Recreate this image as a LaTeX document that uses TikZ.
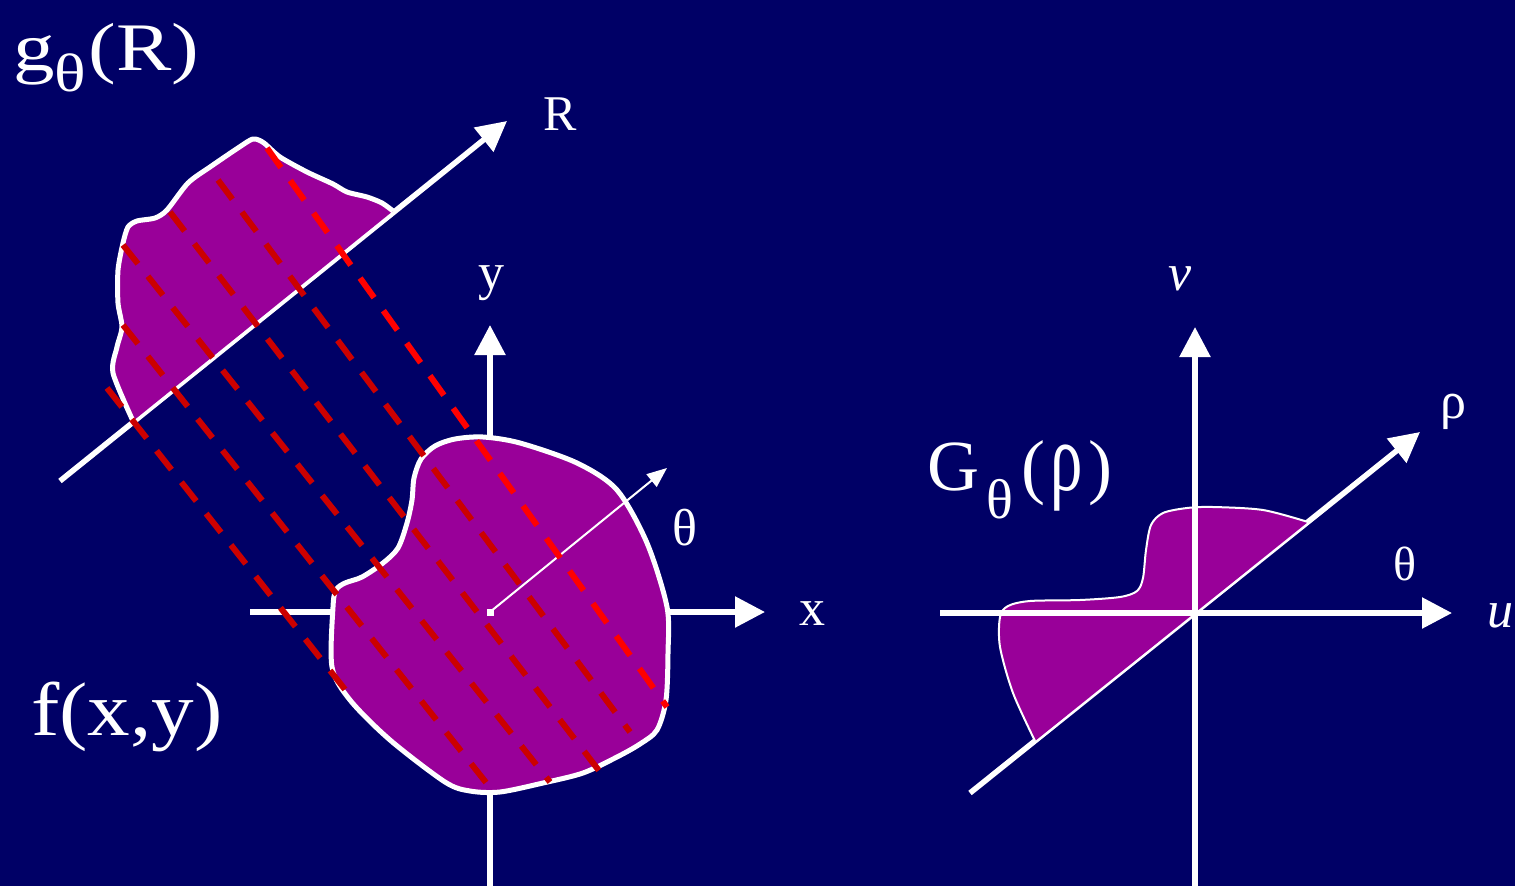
\documentclass[tikz,border=0pt]{standalone}
\usepackage{fontspec}
\setmainfont{Liberation Serif}
\usetikzlibrary{arrows.meta}
\definecolor{slidebg}{HTML}{000066}
\definecolor{blobfill}{HTML}{990099}
\definecolor{darkred}{HTML}{CC0000}
\definecolor{brightred}{HTML}{FF0000}
\newcommand{\fsz}[1]{\fontsize{#1}{#1}\selectfont}

\begin{document}
\begin{tikzpicture}[
		x=1pt, y=-1pt,
		axis/.style={
			draw=white,
			line width=5.5pt,
			-{Triangle[length=30pt,width=30pt]}
		},
		outline/.style={draw=white, line width=5pt, line join=round, fill=blobfill},
		thinline/.style={draw=white, line width=2pt, fill=blobfill},
		proj/.style={line width=6pt, dash pattern=on 24pt off 16pt},
		lbl/.style={text=white, inner sep=0pt, font=\fsz{52}}
		]
		
		% Slide background
		\useasboundingbox (0,0) rectangle (1515,886);
		\fill[slidebg] (0,0) rectangle (1515,886);
		
		% Origins
		\coordinate (O) at (490,612);
		\coordinate (O2) at (1195,613);
		
		% R axis and projection g(R)
		\draw[axis] (60,481) -- (507,121);
		\draw[outline] plot[smooth, tension=0.45] coordinates {
			(133,421) (113,373) (117,347) (122,327) (118,303) (118,270)
			(123,243) (128,227) (137,221) (155,218) (167,210) (188,183)
			(210,167) (247,142) (255,139) (264,143) (280,157) (307,172)
			(333,184) (347,192) (367,197) (382,203) (393,211)};
		
		% x and y axes
		\draw[axis] (250,612) -- (765,612);
		\draw[axis] (O |- 0,886) -- (490,325);
		
		% Object f(x,y)
		\draw[outline] plot[smooth cycle, tension=0.5] coordinates {
			(483,437) (520,443) (577,463) (617,490) (647,543) (667,607)
			(668,653) (666,700) (657,730) (640,744) (617,757) (583,773)
			(543,783) (500,792) (470,791) (445,782) (390,740) (350,700)
			(332,667) (333,607) (336,590) (345,583) (362,577) (383,563)
			(398,548) (407,523) (412,500) (414,478) (421,459) (435,446)
			(455,439)};
		\fill[white] (486.5,608.5) rectangle (493.5,615.5);
		
		% Angle arrow
		\coordinate (th) at (667,468);
		\draw[white, line width=2pt, -{Triangle[length=20pt,width=16pt]}] (O) -- (th);
		
		% Projection lines
		\draw[proj, brightred] (267,148) -- (667,707);
		\draw[proj, darkred] (218,180) -- (630,732);
		\draw[proj, darkred] (170,212) -- (600,772);
		\draw[proj, darkred] (123,245) -- (550,782);
		\draw[proj, darkred] (123,325) -- (492,790);
		\draw[proj, darkred] (107,388) -- (347,692);
		
		% Left labels
		\node[lbl, anchor=base west, font=\fsz{68}] (gR) at (13,70)
		{\scalebox{1.22}[1]{g\raisebox{-21pt}{\fsz{54}θ}\kern2pt(R)}};
		\node[lbl, anchor=base west, font=\fsz{76}] (fxy) at (31,735)
		{\scalebox{1.12}[1]{f(x,y)}};
		\node[lbl, anchor=base, font=\fsz{50}] (lblR) at (560,130) {R};
		\node[lbl, anchor=base] (lbly) at (491,289) {y};
		\node[lbl, anchor=base] (lblx) at (812,625) {x};
		\node[lbl, anchor=base] (lblth) at (685,545) {θ};
		
		% Rho axis and G(rho)
		\draw[axis] (970,793) -- (1420,432);
		\draw[thinline] plot[smooth, tension=0.5] coordinates {
			(1035,741) (1013,693) (1000,647) (1000,617) (1008,606) (1030,601)
			(1080,600) (1120,597) (1137,591) (1143,578) (1146,550) (1151,525)
			(1163,513) (1187,508) (1213,507) (1263,510) (1308,522)};
		
		% u and v axes
		\draw[axis] (940,613) -- (1452,613);
		\draw[axis] (O2 |- 0,886) -- (1195,327);
		
		% Right labels
		\node[lbl, anchor=base west, font=\fsz{72}] (Grho) at (927,490)
		{G\kern7pt\raisebox{-28pt}{\fsz{56}θ}\kern8pt(\kern5pt\scalebox{0.9}[1.35]{ρ}\kern6pt)};
		\node[lbl, anchor=base] (lblv) at (1180,290) {\itshape v};
		\node[lbl, anchor=base] (lblu) at (1500,627) {\itshape u};
		\node[lbl, anchor=base] (lblrho) at (1453,418) {ρ};
		\node[lbl, anchor=base, font=\fsz{48}] (lblth2) at (1405,580) {θ};
		
	\end{tikzpicture}
\end{document}
